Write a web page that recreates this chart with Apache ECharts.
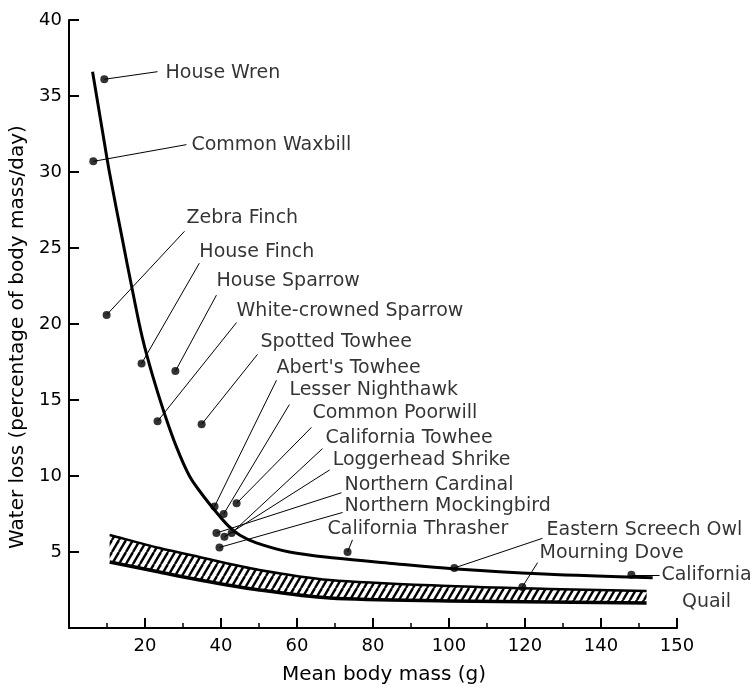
<!DOCTYPE html>
<html><head><meta charset="utf-8">
<script src="https://cdn.jsdelivr.net/npm/echarts@6/dist/echarts.min.js"></script>
<style>html,body{margin:0;padding:0;background:#fff}#c{width:753px;height:688px}</style>
</head><body><div id="c"></div>
<script>
// ---------- data ----------
const birdNames = ['House Wren','Common Waxbill','Zebra Finch','House Finch','House Sparrow','White-crowned Sparrow','Spotted Towhee',"Abert's Towhee",'Lesser Nighthawk','Common Poorwill','California Towhee','Loggerhead Shrike','Northern Cardinal','Northern Mockingbird','California Thrasher','Eastern Screech Owl','Mourning Dove','California\nQuail'];
const birdMass = [9.3, 6.4, 9.9, 19.1, 28.0, 23.3, 34.9, 38.3, 40.7, 44.1, 42.8, 40.9, 38.8, 39.6, 73.3, 101.4, 119.3, 148.0];
const birdWaterLoss = [36.1, 30.7, 20.6, 17.4, 16.9, 13.6, 13.4, 8.0, 7.5, 8.2, 6.25, 6.0, 6.25, 5.3, 5.0, 3.95, 2.7, 3.5];
// leader line end points (annotation anchors, data units)
const labelMass = [23.3, 30.9, 30.4, 34.3, 38.8, 44.1, 49.6, 54.6, 58.0, 63.8, 66.7, 68.6, 71.7, 72.0, 74.6, 124.6, 123.3, 155.4];
const labelLoss = [36.6, 31.8, 26.1, 24.0, 21.9, 20.1, 18.0, 16.3, 14.7, 13.2, 11.8, 10.4, 8.9, 7.6, 5.8, 5.9, 4.3, 3.5];
// fitted curve
const curveMass = [6.2, 8.8, 10.7, 14.1, 16.7, 19.3, 22, 25, 28.3, 31.7, 35, 38.5, 42, 45, 49.3, 58, 70, 85, 101, 125, 153.6];
const curveLoss = [36.6, 32.7, 29.9, 25.5, 22.2, 19.1, 16.6, 14.2, 11.9, 10.0, 8.8, 7.7, 6.7, 6.1, 5.6, 5.0, 4.6, 4.25, 3.9, 3.55, 3.3];
// hatched band
const bandMass = [10.7, 23.8, 34.3, 50.1, 68.6, 100.1, 126.4, 152.0];
const bandUpper = [6.12, 5.26, 4.67, 3.82, 3.16, 2.76, 2.57, 2.43];
const bandLower = [4.34, 3.68, 3.16, 2.50, 1.97, 1.78, 1.71, 1.64];
// ticks
const xTickValues = [20, 40, 60, 80, 100, 120, 140, 160];
const xTickLabels = ['20', '40', '60', '80', '100', '120', '140', '150'];
const yTickValues = [5, 10, 15, 20, 25, 30, 35, 40];
const yTickLabels = ['5', '10', '15', '20', '25', '30', '35', '40'];

// ---------- layout (pixel offsets of label text from leader end) ----------
const labelOffsets = [[8,1],[5,0],[2,-13],[0,-11],[0,-14],[0,-11],[3,-12],[0,-12],[0,-14],[1,-14],[3,-11],[3,-10],[3,-8],[2,-6],[-25,-11],[4,-8],[2,-10],[47,14]];

const FONT = 'DejaVu Sans';
function hatch(){
  const w = 7, h = 12;
  const c = document.createElement('canvas'); c.width = w; c.height = h;
  const g = c.getContext('2d');
  g.fillStyle = '#fff'; g.fillRect(0, 0, w, h);
  g.strokeStyle = '#000'; g.lineWidth = 2.4;
  for (const o of [-w, 0, w]) { g.beginPath(); g.moveTo(o, h); g.lineTo(o + w, 0); g.stroke(); }
  return c;
}
const hatchCanvas = hatch();
const dupEnds = a => [a[0].slice()].concat(a, [a[a.length - 1].slice()]);

const chart = echarts.init(document.getElementById('c'), null, {renderer: 'canvas'});
chart.setOption({
  animation: false,
  backgroundColor: '#fff',
  grid: {left: 69, right: 76, top: 20, bottom: 60, outerBoundsMode: 'none', containLabel: false},
  xAxis: {
    type: 'value', min: 0, max: 160, interval: 20,
    name: 'Mean body mass (g)', nameLocation: 'middle', nameGap: 37,
    nameTextStyle: {color: '#000', fontSize: 20, fontFamily: FONT, padding: [0, 0, 0, 22]},
    axisLine: {lineStyle: {color: '#000', width: 2}},
    axisTick: {inside: true, length: 10, lineStyle: {color: '#000', width: 2}},
    minorTick: {show: true, splitNumber: 2, length: 5, lineStyle: {color: '#000', width: 1.5}},
    axisLabel: {showMinLabel: false, color: '#000', fontSize: 18, fontFamily: FONT, margin: 9,
      formatter: v => { const i = xTickValues.indexOf(v); return i < 0 ? '' : xTickLabels[i]; }},
    splitLine: {show: false}, minorSplitLine: {show: false}
  },
  yAxis: {
    type: 'value', min: 0, max: 40, interval: 5,
    name: 'Water loss (percentage of body mass/day)', nameLocation: 'middle', nameGap: 37, nameRotate: 90,
    nameTextStyle: {color: '#000', fontSize: 20, fontFamily: FONT, padding: [0, 26, 0, 0]},
    axisLine: {lineStyle: {color: '#000', width: 2}},
    axisTick: {inside: true, length: 10, lineStyle: {color: '#000', width: 2}},
    axisLabel: {showMinLabel: false, color: '#000', fontSize: 18, fontFamily: FONT, margin: 7,
      formatter: v => { const i = yTickValues.indexOf(v); return i < 0 ? '' : yTickLabels[i]; }},
    splitLine: {show: false}
  },
  series: [
    {
      type: 'line', name: 'curve', smooth: 0.35, symbol: 'none', silent: true, z: 3,
      lineStyle: {color: '#000', width: 3},
      data: curveMass.map((x, i) => [x, curveLoss[i]])
    },
    {
      type: 'custom', name: 'band', coordinateSystem: 'cartesian2d', silent: true, z: 3,
      data: [[bandMass[0], bandUpper[0]]],
      renderItem: (params, api) => {
        const up = dupEnds(bandMass.map((x, i) => api.coord([x, bandUpper[i]])));
        const lo = dupEnds(bandMass.map((x, i) => api.coord([x, bandLower[i]])));
        return {type: 'group', children: [
          {type: 'polygon', shape: {points: up.concat(lo.slice().reverse()), smooth: 0.3},
           style: {fill: {image: hatchCanvas, repeat: 'repeat'}, stroke: null}},
          {type: 'polyline', shape: {points: up, smooth: 0.3}, style: {stroke: '#000', lineWidth: 2.5, fill: null}},
          {type: 'polyline', shape: {points: lo, smooth: 0.3}, style: {stroke: '#000', lineWidth: 3.5, fill: null}}
        ]};
      }
    },
    {
      type: 'lines', coordinateSystem: 'cartesian2d', silent: true, z: 4,
      lineStyle: {color: '#000', width: 1, opacity: 1},
      data: birdNames.map((n, i) => ({coords: [[birdMass[i], birdWaterLoss[i]], [labelMass[i], labelLoss[i]]]}))
    },
    {
      type: 'scatter', name: 'birds', symbol: 'circle', symbolSize: 8, silent: true, z: 5,
      itemStyle: {color: '#000'},
      data: birdMass.map((x, i) => [x, birdWaterLoss[i]])
    },
    {
      type: 'scatter', name: 'labels', symbolSize: 0, silent: true, z: 6,
      data: birdNames.map((n, i) => ({
        name: n, value: [labelMass[i], labelLoss[i]],
        label: {
          show: true, position: 'right', distance: 0, offset: labelOffsets[i],
          formatter: '{b}', color: '#000', fontSize: 19, fontFamily: FONT,
          align: n.indexOf('\n') >= 0 ? 'center' : 'left', lineHeight: n.indexOf('\n') >= 0 ? 27 : 22
        }
      }))
    }
  ]
});
</script>
</body></html>
